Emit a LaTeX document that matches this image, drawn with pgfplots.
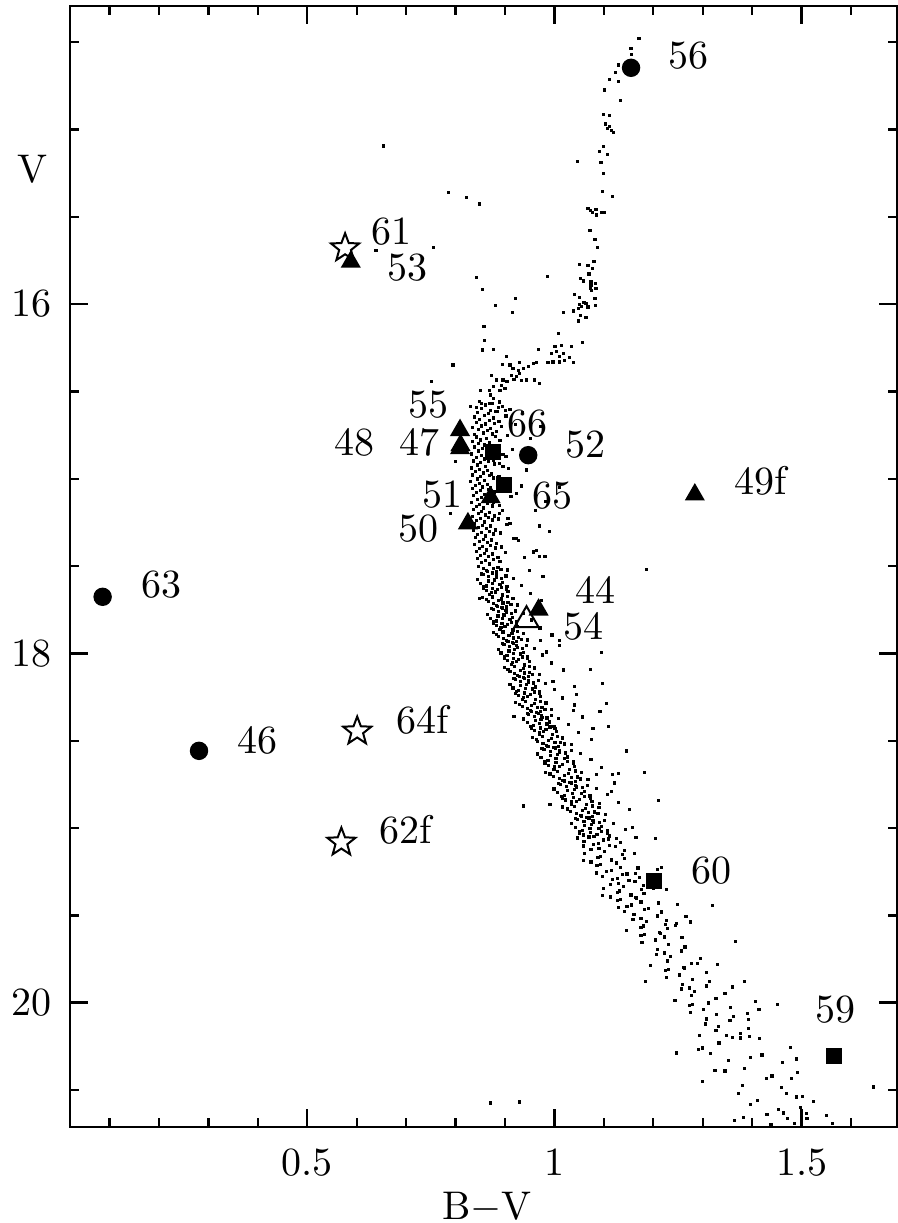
\documentclass[border=0pt]{standalone}
\usepackage{pgfplots}
\pgfplotsset{compat=1.18}
\pgfdeclareplotmark{ostar}{%
  \pgfpathmoveto{\pgfpointpolar{90}{\pgfplotmarksize}}%
  \pgfpathlineto{\pgfpointpolar{126}{0.42*\pgfplotmarksize}}%
  \pgfpathlineto{\pgfpointpolar{162}{\pgfplotmarksize}}%
  \pgfpathlineto{\pgfpointpolar{198}{0.42*\pgfplotmarksize}}%
  \pgfpathlineto{\pgfpointpolar{234}{\pgfplotmarksize}}%
  \pgfpathlineto{\pgfpointpolar{270}{0.42*\pgfplotmarksize}}%
  \pgfpathlineto{\pgfpointpolar{306}{\pgfplotmarksize}}%
  \pgfpathlineto{\pgfpointpolar{342}{0.42*\pgfplotmarksize}}%
  \pgfpathlineto{\pgfpointpolar{18}{\pgfplotmarksize}}%
  \pgfpathlineto{\pgfpointpolar{54}{0.42*\pgfplotmarksize}}%
  \pgfpathclose
  \pgfusepathqfillstroke
}
\newcommand{\lf}{\fontsize{10}{12}\selectfont}
\begin{document}
\begin{tikzpicture}
\begin{axis}[name=ax, scale only axis, width=206.75pt, height=280.25pt,
  xmin=0.02, xmax=1.693, ymin=14.293, ymax=20.712, y dir=reverse,
  clip=false, axis line style={line width=0.6pt},
  xtick={0.5,1,1.5}, xticklabels={0.5,1,1.5},
  minor xtick={0.1,0.2,0.3,0.4,0.6,0.7,0.8,0.9,1.1,1.2,1.3,1.4,1.6},
  ytick={16,18,20}, yticklabels={16,18,20},
  minor ytick={14.5,15,15.5,16.5,17,17.5,18.5,19,19.5,20.5},
  tick align=inside, major tick length=4.5pt, minor tick length=2.3pt,
  every tick/.style={line width=0.6pt, black},
  tick label style={font=\lf},
  xticklabel style={yshift=-1.95pt},
  yticklabel style={xshift=-1pt},
  xlabel={B$-$V}, ylabel={V},
  xlabel style={font=\lf, at={(axis description cs:0.504,-0.0718)}, anchor=center},
  ylabel style={font=\lf, rotate=-90, at={(axis description cs:-0.0453,0.8541)}, anchor=center},
]
% cluster stars (dots)
\addplot[only marks, mark=square*, mark size=0.2pt, mark options={draw=none, fill=black}] coordinates {
(1.171,14.478)(1.155,14.536)(1.156,14.570)(1.130,14.631)(1.124,14.675)(1.111,14.713)(1.129,14.727)(1.102,14.774)
(1.134,14.832)(1.099,14.912)(1.111,14.918)(1.104,14.969)(1.112,14.981)(1.107,14.994)(1.116,15.004)(1.120,15.019)
(1.100,15.099)(1.091,15.124)(1.107,15.143)(1.046,15.185)(1.094,15.191)(1.099,15.252)(1.097,15.357)(1.117,15.386)
(1.068,15.454)(1.073,15.466)(1.084,15.458)(1.077,15.477)(1.085,15.490)(1.095,15.477)(1.102,15.477)(1.072,15.580)
(1.082,15.630)(1.087,15.675)(1.051,15.771)(1.068,15.777)(1.080,15.758)(1.077,15.796)(1.070,15.828)(0.986,15.844)
(1.053,15.853)(1.058,15.868)(1.074,15.872)(1.083,15.882)(1.074,15.891)(1.073,15.910)(1.084,15.910)(1.075,15.924)
(1.041,15.945)(1.050,15.962)(1.082,15.967)(1.060,15.993)(1.064,15.996)(1.050,16.000)(1.055,16.012)(1.068,16.016)
(1.083,16.008)(1.038,16.039)(1.048,16.025)(1.018,16.050)(1.053,16.063)(1.064,16.076)(1.048,16.097)(1.008,16.168)
(0.655,15.095)(0.786,15.360)(0.822,15.391)(0.849,15.427)(0.755,15.678)(0.639,15.691)(0.842,15.847)(0.855,15.916)
(0.880,16.010)(0.921,15.967)(0.915,16.048)(0.858,16.130)
(1.056,16.222)(1.001,16.241)(1.014,16.235)(1.035,16.245)(0.994,16.282)(1.004,16.273)(1.011,16.302)(1.019,16.282)
(1.030,16.305)(0.987,16.336)(0.997,16.331)(1.010,16.331)(1.020,16.321)(1.038,16.336)(0.967,16.260)(0.957,16.340)
(0.964,16.336)(0.947,16.359)(0.930,16.336)(0.937,16.368)(0.927,16.378)(0.930,16.397)(0.923,16.416)(0.913,16.407)
(0.903,16.302)(0.910,16.349)(0.916,16.368)(0.918,16.431)(0.933,16.439)(0.944,16.435)(0.960,16.435)(0.970,16.454)
(0.904,16.445)(0.896,16.435)(0.893,16.464)(0.900,16.483)(0.890,16.493)(0.895,16.345)(0.873,16.407)(0.883,16.435)
(0.877,16.474)(0.869,16.493)(0.871,16.521)(0.876,16.540)(0.850,16.493)(0.859,16.210)(0.856,16.130)(0.855,16.263)
(0.877,16.260)(0.795,16.349)(0.751,16.445)(0.901,16.607)(0.887,16.592)(0.869,16.569)(0.852,16.569)(0.831,16.584)
(0.848,16.556)(0.874,16.567)(0.889,16.561)(0.861,16.578)(0.895,16.586)(0.842,16.593)
(0.853,16.598)(0.871,16.607)(0.910,16.603)(0.880,16.614)(0.845,16.621)(0.866,16.628)(0.884,16.617)
(0.858,16.638)(0.839,16.646)(0.876,16.652)(0.902,16.641)(0.849,16.659)(0.869,16.667)(0.888,16.673)
(0.842,16.679)(0.860,16.687)(0.878,16.682)(0.921,16.691)(0.852,16.698)(0.835,16.706)(0.871,16.712)(0.893,16.703)
(0.846,16.718)(0.864,16.726)(0.882,16.731)(0.856,16.738)(0.838,16.747)(0.874,16.744)(0.905,16.752)
(0.843,16.761)(0.862,16.769)(0.880,16.757)(0.851,16.778)(0.834,16.786)(0.868,16.791)(0.890,16.783)
(0.846,16.799)(0.859,16.807)(0.877,16.813)(0.838,16.818)(0.855,16.826)(0.872,16.822)(0.915,16.831)
(0.847,16.841)(0.863,16.848)(0.881,16.836)(0.833,16.858)(0.852,16.866)(0.869,16.871)(0.896,16.862)
(0.843,16.879)(0.858,16.887)(0.876,16.893)(0.836,16.898)(0.850,16.906)(0.866,16.902)(0.889,16.911)
(0.845,16.921)(0.861,16.928)(0.878,16.916)(0.832,16.938)(0.849,16.946)(0.864,16.951)(0.907,16.942)
(0.841,16.959)(0.856,16.967)(0.873,16.973)(0.835,16.978)(0.851,16.986)(0.868,16.982)(0.886,16.991)
(0.844,17.001)(0.859,17.008)(0.876,16.996)(0.831,17.018)(0.848,17.026)(0.864,17.031)(0.898,17.022)
(0.840,17.039)(0.855,17.047)(0.871,17.053)(0.834,17.058)(0.850,17.066)(0.866,17.062)(0.884,17.071)
(0.843,17.081)(0.858,17.088)(0.878,17.076)(0.836,17.098)(0.852,17.106)(0.869,17.111)(0.912,17.102)
(0.845,17.119)(0.861,17.127)(0.876,17.133)(0.833,17.138)(0.849,17.146)(0.865,17.142)(0.889,17.151)
(0.842,17.161)(0.857,17.168)(0.874,17.156)(0.837,17.178)(0.853,17.186)(0.868,17.191)(0.895,17.182)
(0.846,17.199)(0.860,17.207)(0.879,17.213)(0.834,17.218)(0.851,17.226)(0.866,17.222)(0.887,17.231)
(0.843,17.241)(0.858,17.248)(0.874,17.236)(0.838,17.258)(0.854,17.266)(0.870,17.271)(0.904,17.262)
(0.847,17.279)(0.862,17.287)(0.881,17.293)(0.836,17.298)(0.852,17.306)(0.868,17.302)(0.891,17.311)
(0.845,17.321)(0.860,17.328)(0.876,17.316)(0.840,17.338)(0.856,17.346)(0.872,17.351)(0.918,17.342)
(0.849,17.359)(0.864,17.367)(0.883,17.373)(0.839,17.378)(0.855,17.386)(0.870,17.382)(0.893,17.391)
(0.848,17.401)(0.863,17.408)(0.880,17.396)(0.842,17.418)(0.858,17.426)(0.874,17.431)(0.901,17.422)
(0.851,17.439)(0.867,17.447)(0.886,17.453)(0.845,17.458)(0.861,17.466)(0.877,17.462)
(0.853,17.481)(0.869,17.488)(0.890,17.476)
(0.923,17.084)(0.933,17.041)(0.970,17.270)(0.923,17.342)(0.928,17.352)(0.964,17.409)(0.981,17.447)(0.950,17.524)
(1.186,17.520)(0.910,17.256)(0.906,17.228)(0.889,17.199)(0.902,16.871)(0.896,16.932)(0.888,16.989)(0.893,17.047)
(0.957,17.419)(0.970,17.447)(0.977,17.562)(1.095,17.997)(1.011,17.925)(0.984,17.992)(0.849,17.686)(0.918,18.360)
(0.935,16.620)(0.951,16.770)(0.944,16.950)(0.962,17.180)(0.983,17.130)(0.940,17.450)(0.990,17.300)(1.010,17.050)
(0.972,16.700)(0.800,16.900)(0.790,17.200)(0.810,16.700)
(0.846,17.504)(0.876,17.512)(0.892,17.519)(0.862,17.527)(0.883,17.534)
(0.875,17.542)(0.856,17.550)(0.902,17.557)(0.883,17.565)(0.845,17.576)
(0.866,17.586)(0.895,17.593)(0.875,17.601)(0.934,17.609)(0.857,17.618)
(0.893,17.621)(0.856,17.629)(0.885,17.636)(0.906,17.646)(0.872,17.651)
(0.869,17.663)(0.905,17.674)(0.855,17.680)(0.893,17.688)(0.974,17.695)
(0.866,17.704)(0.896,17.712)(0.912,17.719)(0.882,17.727)(0.903,17.734)
(0.895,17.742)(0.876,17.750)(0.922,17.757)(0.903,17.765)(0.865,17.776)
(0.886,17.786)(0.915,17.793)(0.895,17.801)(0.954,17.809)(0.877,17.818)
(0.913,17.821)(0.876,17.829)(0.905,17.836)(0.926,17.846)(0.892,17.851)
(0.890,17.863)(0.926,17.874)(0.876,17.880)(0.914,17.888)(0.995,17.895)
(0.887,17.904)(0.917,17.912)(0.933,17.919)(0.903,17.927)(0.924,17.934)
(0.917,17.942)(0.898,17.950)(0.944,17.957)(0.925,17.965)(0.887,17.976)
(0.908,17.986)(0.937,17.993)(0.917,18.001)(0.976,18.009)(0.899,18.018)
(0.936,18.021)(0.899,18.029)(0.928,18.036)(0.949,18.046)(0.915,18.051)
(0.913,18.063)(0.949,18.074)(0.899,18.080)(0.937,18.088)(1.018,18.095)
(0.910,18.104)(0.940,18.112)(0.956,18.119)(0.926,18.127)(0.947,18.134)
(0.940,18.142)(0.921,18.150)(0.967,18.157)(0.948,18.165)(0.910,18.176)
(0.932,18.186)(0.961,18.193)(0.941,18.201)(1.000,18.209)(0.923,18.218)
(0.959,18.221)(0.922,18.229)(0.951,18.236)(0.972,18.246)(0.938,18.251)
(0.936,18.263)(0.972,18.274)(0.922,18.280)(0.960,18.288)(1.041,18.295)
(0.935,18.304)(0.965,18.312)(0.981,18.319)(0.951,18.327)(0.972,18.334)
(0.967,18.342)(0.948,18.350)(0.994,18.357)(0.975,18.365)(0.937,18.376)
(0.961,18.386)(0.990,18.393)(0.970,18.401)(1.029,18.409)(0.952,18.418)
(0.991,18.421)(0.954,18.429)(0.983,18.436)(1.004,18.446)(0.970,18.451)
(0.970,18.463)(1.006,18.474)(0.956,18.480)(0.994,18.488)(1.075,18.495)
(0.965,18.504)(1.001,18.512)(1.020,18.519)(0.984,18.527)(1.009,18.534)
(1.002,18.542)(0.979,18.550)(1.034,18.557)(1.011,18.565)(0.966,18.576)
(0.992,18.586)(1.027,18.593)(1.003,18.601)(1.074,18.609)(0.981,18.618)
(1.026,18.621)(0.981,18.629)(1.016,18.636)(1.041,18.646)(1.000,18.651)
(0.999,18.663)(1.042,18.674)(0.982,18.680)(1.028,18.688)(1.117,18.695)
(0.998,18.704)(1.034,18.712)(1.053,18.719)(1.017,18.727)(1.042,18.734)
(1.035,18.742)(1.012,18.750)(1.067,18.757)(1.044,18.765)(0.999,18.776)
(1.026,18.786)(1.061,18.793)(1.037,18.801)(1.108,18.809)(1.015,18.818)
(1.061,18.821)(1.016,18.829)(1.051,18.836)(1.076,18.846)(1.035,18.851)
(1.034,18.863)(1.077,18.874)(1.017,18.880)(1.063,18.888)(1.152,18.895)
(1.033,18.904)(1.069,18.912)(1.088,18.919)(1.052,18.927)(1.077,18.934)
(1.070,18.942)(1.047,18.950)(1.102,18.957)(1.079,18.965)(1.034,18.976)
(1.061,18.986)(1.096,18.993)(1.072,19.001)(1.143,19.009)(1.050,19.018)
(1.096,19.021)(1.051,19.029)(1.086,19.036)(1.111,19.046)(1.070,19.051)
(0.886,17.508)(0.856,17.516)(0.905,17.523)(0.865,17.531)(0.874,17.539)
(0.853,17.545)(0.882,17.555)(0.867,17.562)(0.893,17.570)(0.917,17.573)
(0.878,17.580)(0.850,17.598)(0.890,17.604)(0.862,17.614)(0.904,17.617)
(0.874,17.627)(0.903,17.631)(0.862,17.640)(0.880,17.648)(0.951,17.655)
(0.895,17.666)(0.875,17.677)(0.916,17.684)(0.862,17.691)(0.887,17.698)
(0.906,17.708)(0.876,17.716)(0.925,17.723)(0.885,17.731)(0.894,17.739)
(0.873,17.745)(0.902,17.755)(0.887,17.762)(0.913,17.770)(0.937,17.773)
(0.898,17.780)(0.870,17.798)(0.910,17.804)(0.882,17.814)(0.924,17.817)
(0.894,17.827)(0.923,17.831)(0.882,17.840)(0.900,17.848)(0.971,17.855)
(0.916,17.866)(0.896,17.877)(0.937,17.884)(0.883,17.891)(0.908,17.898)
(0.927,17.908)(0.897,17.916)(0.946,17.923)(0.906,17.931)(0.915,17.939)
(0.895,17.945)(0.924,17.955)(0.909,17.962)(0.935,17.970)(0.959,17.973)
(0.920,17.980)(0.892,17.998)(0.932,18.004)(0.904,18.014)(0.946,18.017)
(0.917,18.027)(0.946,18.031)(0.905,18.040)(0.923,18.048)(0.994,18.055)
(0.939,18.066)(0.919,18.077)(0.960,18.084)(0.906,18.091)(0.931,18.098)
(0.950,18.108)(0.920,18.116)(0.969,18.123)(0.929,18.131)(0.938,18.139)
(0.918,18.145)(0.947,18.155)(0.932,18.162)(0.958,18.170)(0.982,18.173)
(0.944,18.180)(0.916,18.198)(0.956,18.204)(0.928,18.214)(0.970,18.217)
(0.940,18.227)(0.969,18.231)(0.928,18.240)(0.946,18.248)(1.017,18.255)
(0.962,18.266)(0.942,18.277)(0.983,18.284)(0.929,18.291)(0.954,18.298)
(0.975,18.308)(0.945,18.316)(0.994,18.323)(0.954,18.331)(0.963,18.339)
(0.945,18.345)(0.974,18.355)(0.959,18.362)(0.985,18.370)(1.009,18.373)
(0.973,18.380)(0.945,18.398)(0.985,18.404)(0.957,18.414)(0.999,18.417)
(0.972,18.427)(1.001,18.431)(0.960,18.440)(0.978,18.448)(1.049,18.455)
(0.996,18.466)(0.976,18.477)(1.017,18.484)(0.963,18.491)(0.988,18.498)
(1.013,18.508)(0.977,18.516)(1.035,18.523)(0.987,18.531)(0.998,18.539)
(0.975,18.545)(1.010,18.555)(0.992,18.562)(1.023,18.570)(1.052,18.573)
(1.006,18.580)(0.973,18.598)(1.021,18.604)(0.987,18.614)(1.038,18.617)
(1.003,18.627)(1.038,18.631)(0.988,18.640)(1.010,18.648)(1.095,18.655)
(1.030,18.666)(1.006,18.677)(1.055,18.684)(0.991,18.691)(1.021,18.698)
(1.046,18.708)(1.010,18.716)(1.068,18.723)(1.020,18.731)(1.031,18.739)
(1.008,18.745)(1.043,18.755)(1.025,18.762)(1.056,18.770)(1.085,18.773)
(1.040,18.780)(1.007,18.798)(1.055,18.804)(1.021,18.814)(1.072,18.817)
(1.038,18.827)(1.073,18.831)(1.023,18.840)(1.045,18.848)(1.130,18.855)
(1.065,18.866)(1.041,18.877)(1.090,18.884)(1.026,18.891)(1.056,18.898)
(1.081,18.908)(1.045,18.916)(1.103,18.923)(1.055,18.931)(1.066,18.939)
(1.043,18.945)(1.078,18.955)(1.060,18.962)(1.091,18.970)(1.120,18.973)
(1.075,18.980)(1.042,18.998)(1.090,19.004)(1.056,19.014)(1.107,19.017)
(1.073,19.027)(1.108,19.031)(1.058,19.040)(1.080,19.048)(1.165,19.055)
(1.073,18.090)(1.097,18.173)(1.105,18.287)(1.109,18.417)(1.145,18.559)(1.182,18.684)(1.210,18.841)(1.205,19.060)
(1.319,19.442)(1.367,19.649)(0.937,18.874)(0.991,18.866)(1.058,19.103)(1.158,18.997)(1.078,18.430)(1.092,18.335)
(1.039,18.325)(1.045,18.234)(1.057,18.364)(1.041,18.188)(0.997,18.159)(1.010,17.957)(0.972,17.928)(1.085,18.694)
(1.129,18.688)(1.122,18.742)(1.115,18.793)(1.091,18.860)
(1.047,19.057)(1.100,19.068)(1.134,19.081)(1.079,19.094)(1.109,19.063)(1.060,19.077)(1.089,19.090)(1.126,19.059)
(1.124,19.104)(1.074,19.122)(1.101,19.136)(1.162,19.147)(1.090,19.116)(1.141,19.129)(1.061,19.146)(1.112,19.101)
(1.093,19.161)(1.142,19.175)(1.059,19.188)(1.126,19.199)(1.137,19.153)(1.088,19.170)(1.116,19.183)(1.074,19.195)
(1.125,19.202)(1.086,19.216)(1.169,19.229)(1.115,19.241)(1.093,19.210)(1.134,19.224)(1.208,19.237)(1.106,19.248)
(1.085,19.257)(1.138,19.268)(1.172,19.281)(1.117,19.294)(1.147,19.263)(1.098,19.277)(1.127,19.290)(1.164,19.259)
(1.163,19.304)(1.113,19.322)(1.140,19.336)(1.201,19.347)(1.129,19.316)(1.180,19.329)(1.100,19.346)(1.151,19.301)
(1.132,19.361)(1.181,19.375)(1.098,19.388)(1.165,19.399)(1.176,19.353)(1.127,19.370)(1.155,19.383)(1.113,19.395)
(1.166,19.402)(1.127,19.416)(1.210,19.429)(1.156,19.441)(1.134,19.410)(1.175,19.424)(1.249,19.437)(1.147,19.448)
(1.129,19.457)(1.182,19.468)(1.216,19.481)(1.161,19.494)(1.191,19.463)(1.142,19.477)
(1.209,19.504)(1.159,19.522)(1.186,19.536)(1.247,19.547)(1.175,19.516)(1.226,19.529)
(1.180,19.561)(1.229,19.575)(1.146,19.588)(1.213,19.599)(1.224,19.553)(1.175,19.570)
(1.214,19.602)(1.175,19.616)(1.258,19.629)(1.204,19.641)(1.182,19.610)(1.223,19.624)
(1.177,19.657)(1.230,19.668)(1.264,19.681)(1.209,19.694)
(1.257,19.704)(1.207,19.722)(1.234,19.736)(1.295,19.747)(1.223,19.716)
(1.229,19.761)(1.278,19.775)(1.195,19.788)(1.262,19.799)
(1.263,19.802)(1.224,19.816)(1.307,19.829)(1.253,19.841)(1.231,19.810)
(1.227,19.857)(1.280,19.868)(1.314,19.881)(1.259,19.894)
(1.307,19.904)(1.257,19.922)(1.284,19.936)(1.345,19.947)(1.273,19.916)
(1.278,19.961)(1.327,19.975)(1.244,19.988)(1.311,19.999)
(1.312,20.002)(1.273,20.016)(1.356,20.029)(1.302,20.041)(1.280,20.010)
(1.275,20.057)(1.328,20.068)(1.362,20.081)(1.307,20.094)
(1.355,20.104)(1.305,20.122)(1.332,20.136)(1.393,20.147)
(1.327,20.161)(1.376,20.175)(1.293,20.188)(1.360,20.199)
(1.330,19.782)(1.385,19.881)(1.360,19.910)(1.452,20.011)(1.406,19.992)(1.477,20.257)(1.490,20.322)(1.645,20.483)
(1.247,20.288)(1.299,20.450)(1.185,19.881)(1.217,19.228)(1.227,19.351)(1.276,19.538)(1.266,19.505)(1.245,19.559)
(1.290,19.777)(1.414,20.038)(1.390,20.063)(1.392,20.097)(1.415,20.206)(1.397,20.315)(1.381,20.473)(1.429,20.435)
(1.462,20.341)(1.491,20.400)(1.480,20.435)(1.460,20.487)(1.490,20.540)(1.502,20.536)(1.524,20.565)(1.551,20.645)
(1.563,20.693)(1.453,20.612)(1.463,20.632)(1.472,20.661)(1.497,20.601)(1.510,20.635)(1.511,20.664)(1.397,20.584)
(1.382,20.658)(1.365,20.674)(1.438,20.696)(1.300,20.259)(1.291,20.269)(1.315,20.292)(1.325,20.388)(1.345,20.391)
(1.385,20.377)(1.333,20.231)(1.348,20.187)(1.377,20.202)(1.394,20.193)(0.871,20.574)(0.929,20.569)
(1.420,20.300)(1.352,20.330)(1.440,20.420)(1.372,20.520)(1.410,20.560)(1.470,20.520)(1.430,20.640)(1.485,20.690)
};
% open stars
\addplot[only marks, mark=ostar, mark size=3.7pt, mark options={draw=black, fill=white, line width=0.5pt}] coordinates {
(0.5765,15.679)(0.601,18.446)(0.569,19.082)};
% filled circles
\addplot[only marks, mark=*, mark size=2.1pt, mark options={draw=black, fill=black}] coordinates {
(1.155,14.647)(0.947,16.865)(0.086,17.676)(0.281,18.558)};
% filled squares
\addplot[only marks, mark=square*, mark size=1.8pt, mark options={draw=black, fill=black}] coordinates {
(0.875,16.846)(0.898,17.033)(1.202,19.305)(1.566,20.305)};
% open triangle
\addplot[only marks, mark=triangle, mark size=3.5pt, mark options={draw=black, fill=white, line width=0.5pt}] coordinates {
(0.9435,17.810)};
% filled triangles
\addplot[only marks, mark=triangle*, mark size=2.5pt, mark options={draw=black, fill=black}] coordinates {
(0.588,15.758)(0.809,16.722)(0.810,16.808)(0.809,16.826)(0.871,17.107)(0.825,17.256)(1.284,17.091)(0.968,17.750)};
% labels
\begin{scope}[every node/.style={font=\lf, anchor=center, inner sep=0pt}]
\node at (axis cs:1.272,14.577) {56};
\node at (axis cs:0.670,15.585) {61};
\node at (axis cs:0.703,15.791) {53};
\node at (axis cs:0.746,16.578) {55};
\node at (axis cs:0.595,16.790) {48};
\node at (axis cs:0.7275,16.790) {47};
\node at (axis cs:0.946,16.687) {66};
\node at (axis cs:1.0636,16.802) {52};
\node at (axis cs:0.774,17.091) {51};
\node at (axis cs:0.9958,17.094) {65};
\node at (axis cs:0.7255,17.286) {50};
\node at (axis cs:1.0838,17.636) {44};
\node at (axis cs:1.0595,17.846) {54};
\node at (axis cs:1.4178,17.014) {49f};
\node at (axis cs:0.2042,17.609) {63};
\node at (axis cs:0.3986,18.497) {46};
\node at (axis cs:0.7326,18.383) {64f};
\node at (axis cs:0.6992,19.013) {62f};
\node at (axis cs:1.3176,19.242) {60};
\node at (axis cs:1.5696,20.041) {59};
\end{scope}
\end{axis}
\pgfresetboundingbox
\path ([xshift=-17.5pt,yshift=-24pt]ax.south west) rectangle ([xshift=0.25pt,yshift=1.5pt]ax.north east);
\end{tikzpicture}
\end{document}
